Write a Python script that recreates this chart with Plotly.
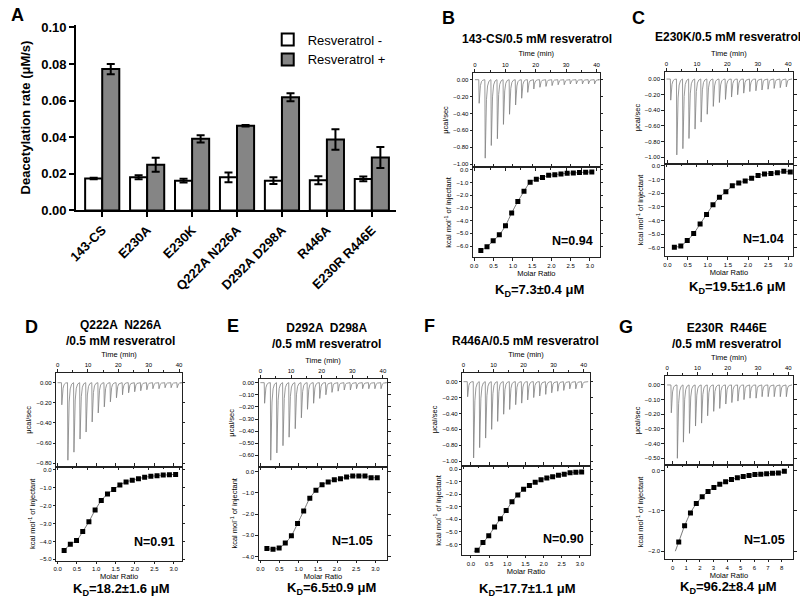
import plotly.graph_objects as go

W, H = 800, 605

# ---------------- Panel A data ----------------
categories = ["143-CS", "E230A", "E230K", "Q222A N226A", "D292A D298A", "R446A", "E230R R446E"]
rate_minus = [0.0175, 0.0181, 0.0163, 0.0181, 0.0163, 0.0165, 0.0172]
rate_minus_err = [0.0004, 0.0011, 0.0010, 0.0027, 0.0018, 0.0022, 0.0013]
rate_plus = [0.0772, 0.0250, 0.0391, 0.0463, 0.0618, 0.0387, 0.0289]
rate_plus_err = [0.0028, 0.0038, 0.0020, 0.0004, 0.0022, 0.0056, 0.0057]
ytick_A = [0.00, 0.02, 0.04, 0.06, 0.08, 0.10]

# ---------------- ITC data ----------------
inj_times = [1.3, 3.3, 5.3, 7.3, 9.3, 11.3, 13.3, 15.3, 17.3, 19.3,
             21.3, 23.3, 25.3, 27.3, 29.3, 31.3, 33.3, 35.3, 37.3, 39.3]

peaks_B = [-0.28, -0.93, -0.78, -0.70, -0.53, -0.41, -0.30, -0.22, -0.15, -0.11,
           -0.09, -0.08, -0.07, -0.06, -0.06, -0.05, -0.05, -0.05, -0.05, -0.05]
peaks_C = [-0.27, -0.97, -0.89, -0.76, -0.64, -0.55, -0.45, -0.35, -0.30, -0.26,
           -0.23, -0.20, -0.18, -0.16, -0.15, -0.14, -0.13, -0.12, -0.11, -0.10]
peaks_D = [-0.22, -0.77, -0.69, -0.56, -0.49, -0.39, -0.30, -0.24, -0.19, -0.15,
           -0.12, -0.10, -0.09, -0.08, -0.07, -0.06, -0.06, -0.05, -0.05, -0.05]
peaks_E = [-0.17, -0.64, -0.58, -0.52, -0.45, -0.38, -0.29, -0.22, -0.17, -0.13,
           -0.10, -0.08, -0.07, -0.06, -0.06, -0.05, -0.05, -0.05, -0.05, -0.05]
peaks_F = [-0.19, -0.96, -0.83, -0.71, -0.60, -0.50, -0.41, -0.35, -0.29, -0.27,
           -0.23, -0.20, -0.18, -0.16, -0.14, -0.12, -0.11, -0.09, -0.09, -0.08]
peaks_G = [-0.19, -0.50, -0.39, -0.33, -0.28, -0.26, -0.21, -0.18, -0.16, -0.13,
           -0.12, -0.11, -0.10, -0.09, -0.09, -0.08, -0.08, -0.08, -0.08, -0.08]

ratio_std = [0.17, 0.33, 0.49, 0.65, 0.81, 0.97, 1.13, 1.29, 1.45, 1.61,
             1.77, 1.93, 2.09, 2.25, 2.41, 2.57, 2.73, 2.89, 3.05]
ratio_G = [0.45, 0.88, 1.31, 1.74, 2.17, 2.60, 3.03, 3.46, 3.89, 4.32,
           4.75, 5.18, 5.61, 6.04, 6.47, 6.90, 7.33, 7.76, 8.20]

heat_B = [-6.36, -6.05, -5.59, -5.12, -4.40, -3.40, -2.50, -1.70, -0.98, -0.75,
          -0.62, -0.44, -0.39, -0.33, -0.28, -0.25, -0.22, -0.20, -0.17]
heat_C = [-5.95, -5.85, -5.45, -4.95, -4.25, -3.55, -2.85, -2.30, -1.90, -1.45,
          -1.25, -1.10, -0.90, -0.70, -0.60, -0.55, -0.50, -0.40, -0.45]
heat_D = [-4.50, -4.15, -3.95, -3.45, -2.90, -2.25, -1.72, -1.35, -1.10, -0.85,
          -0.68, -0.58, -0.50, -0.42, -0.37, -0.33, -0.30, -0.28, -0.26]
heat_E = [-3.63, -3.66, -3.60, -3.37, -3.02, -2.45, -1.85, -1.25, -0.88, -0.62,
          -0.48, -0.38, -0.33, -0.25, -0.20, -0.20, -0.20, -0.28, -0.28]
heat_F = [-6.45, -5.85, -5.30, -4.60, -3.95, -3.30, -2.60, -2.05, -1.60, -1.30,
          -1.05, -0.85, -0.70, -0.60, -0.48, -0.40, -0.28, -0.25, -0.22]
heat_G = [-1.77, -1.37, -1.05, -0.82, -0.65, -0.52, -0.42, -0.34, -0.28, -0.22,
          -0.18, -0.15, -0.12, -0.10, -0.09, -0.08, -0.07, -0.06, -0.02]

# fit-curve start points extending before the first injection
fit_head_F = ([0.08], [-6.55])
fit_head_G = ([0.2], [-2.0])

titles = {
    "B": "143-CS/0.5 mM resveratrol",
    "C": "E230K/0.5 mM resveratrol",
    "D": "Q222A  N226A<br>/0.5 mM resveratrol",
    "E": "D292A  D298A<br>/0.5 mM resveratrol",
    "F": "R446A/0.5 mM resveratrol",
    "G": "E230R  R446E<br>/0.5 mM resveratrol",
}
kd_text = {"B": "7.3±0.4 μM", "C": "19.5±1.6 μM", "D": "18.2±1.6 μM",
           "E": "6.5±0.9 μM", "F": "17.7±1.1 μM", "G": "96.2±8.4 μM"}
n_text = {"B": "N=0.94", "C": "N=1.04", "D": "N=0.91",
          "E": "N=1.05", "F": "N=0.90", "G": "N=1.05"}

FONT = "Liberation Sans, Arial, sans-serif"
NARROW = "Liberation Sans Narrow, Liberation Sans, Arial, sans-serif"


def px_x(a, b):
    return [a / W, b / W]


def px_y(top, bottom):
    return [1 - bottom / H, 1 - top / H]


def note(text, x, y, size, family=FONT):
    return dict(text=text, x=x / W, y=1 - y / H, xref="paper", yref="paper",
                xanchor="center", yanchor="middle", showarrow=False, align="center",
                font=dict(family=family, size=size, color="black"))


fig = go.Figure()

# ---------------- Panel A ----------------
fig.add_trace(go.Bar(
    x=categories, y=rate_minus, name="Resveratrol -",
    marker=dict(color="white", line=dict(color="black", width=2)),
    error_y=dict(type="data", array=rate_minus_err, color="black", thickness=2, width=4),
    xaxis="x", yaxis="y"))
fig.add_trace(go.Bar(
    x=categories, y=rate_plus, name="Resveratrol +",
    marker=dict(color="#858585", line=dict(color="black", width=2)),
    error_y=dict(type="data", array=rate_plus_err, color="black", thickness=2, width=4),
    xaxis="x", yaxis="y"))

layout = dict(
    width=W, height=H, margin=dict(l=0, r=0, t=0, b=0),
    paper_bgcolor="white", plot_bgcolor="white",
    barmode="group", bargap=0.24, bargroupgap=0.0,
    showlegend=True,
    legend=dict(x=262 / W, y=1 - 20 / H, xanchor="left", yanchor="top",
                font=dict(family=FONT, size=13, color="black"),
                bgcolor="rgba(0,0,0,0)", itemwidth=30),
    font=dict(family=FONT, color="black"),
)
layout["xaxis"] = dict(
    domain=px_x(68, 392), range=[-0.58, 6.54], anchor="y",
    showline=True, linecolor="black", linewidth=2,
    ticks="outside", ticklen=5, tickwidth=2, tickcolor="black",
    tickangle=-45, tickfont=dict(family=FONT, size=13, weight="bold"),
    showgrid=False, zeroline=False)
layout["yaxis"] = dict(
    domain=px_y(20, 210), range=[0, 0.1015], anchor="x",
    tickvals=ytick_A, tickformat=".2f",
    showline=True, linecolor="black", linewidth=2,
    ticks="outside", ticklen=5, tickwidth=2, tickcolor="black",
    tickfont=dict(family=FONT, size=13, weight="bold"),
    title=dict(text="Deacetylation rate (μM/s)", standoff=8,
               font=dict(family=FONT, size=13, weight="bold")),
    showgrid=False, zeroline=False)

annotations = [note("<b>A</b>", 9, 10, 18)]

# ---------------- ITC panels ----------------
panels = [
    dict(key="B", box=(470, 598, 69, 166, 258), tr=[-0.6, 41], yt=[-1.04, 0.085], ytd=0.2,
         yb=[-6.9, 0.18], mr=[-0.03, 3.25], mrd=0.5, mrf=".1f",
         peaks=peaks_B, ratio=ratio_std, heat=heat_B, head=None,
         letter=(445, 13), title=(535, 35), kd=(537, 292), n=(571, 241)),
    dict(key="C", box=(664, 794, 68, 162, 257), tr=[-0.6, 41.6], yt=[-1.08, 0.096], ytd=0.2,
         yb=[-6.62, 0.17], mr=[-0.07, 3.12], mrd=0.5, mrf=".1f",
         peaks=peaks_C, ratio=ratio_std, heat=heat_C, head=None,
         letter=(637, 13), title=(728, 33), kd=(737, 289), n=(764, 239)),
    dict(key="D", box=(48, 175, 376, 472, 568), tr=[-0.4, 40.9], yt=[-0.836, 0.097], ytd=0.2,
         yb=[-5.08, 0.16], mr=[-0.03, 3.21], mrd=0.5, mrf=".1f",
         peaks=peaks_D, ratio=ratio_std, heat=heat_D, head=None,
         letter=(23, 329), title=(113, 335), kd=(113, 597), n=(147, 549)),
    dict(key="E", box=(253, 383, 382, 472, 567), tr=[-0.5, 41.4], yt=[-0.695, 0.032], ytd=0.1,
         yb=[-4.16, 0.23], mr=[-0.04, 3.31], mrd=0.5, mrf=".1f",
         peaks=peaks_E, ratio=ratio_std, heat=heat_E, head=None,
         letter=(227, 328), title=(322, 338), kd=(327, 596), n=(348, 548)),
    dict(key="F", box=(459, 588, 376, 471, 562), tr=[-0.4, 42], yt=[-1.06, 0.11], ytd=0.2,
         yb=[-6.83, 0.26], mr=[-0.24, 3.27], mrd=0.5, mrf=".1f",
         peaks=peaks_F, ratio=ratio_std, heat=heat_F, head=fit_head_F,
         letter=(426, 328), title=(523, 343), kd=(525, 597), n=(562, 546)),
    dict(key="G", box=(664, 794, 379, 470, 566), tr=[-0.8, 41.6], yt=[-0.545, 0.062], ytd=0.1,
         yb=[-2.19, 0.14], mr=[-0.58, 8.84], mrd=1, mrf="d",
         peaks=peaks_G, ratio=ratio_G, heat=heat_G, head=fit_head_G,
         letter=(625, 329), title=(727, 338), kd=(728, 595), n=(765, 547)),
]

spike_shape = [(-0.04, 0.0), (0.08, 1.0), (0.25, 0.55), (0.5, 0.25), (0.85, 0.08),
               (1.3, 0.02), (1.9, 0.0)]


def thermogram(times, peaks, t_end):
    xs, ys = [0.0], [0.0]
    for t, p in zip(times, peaks):
        for dt, f in spike_shape:
            xs.append(t + dt)
            ys.append(p * f)
    xs.append(t_end)
    ys.append(0.0)
    return xs, ys


tickfont = dict(family=FONT, size=6, color="black")
axfont = dict(family=FONT, size=7.5, color="black")


def frame_axis(**kw):
    base = dict(showline=True, linecolor="#222", linewidth=1, mirror="ticks",
                ticks="outside", ticklen=2.5, tickwidth=0.8, tickcolor="#222",
                showgrid=False, zeroline=False, tickfont=tickfont)
    base.update(kw)
    return base


for k, p in enumerate(panels):
    l, r, t, m, b = p["box"]
    xt, yt_, xb, yb_ = 2 + 2 * k, 2 + 2 * k, 3 + 2 * k, 3 + 2 * k
    xs, ys = thermogram(inj_times, p["peaks"], p["tr"][1] - 0.5)
    fig.add_trace(go.Scatter(x=xs, y=ys, mode="lines", showlegend=False,
                             line=dict(color="#808080", width=0.8),
                             xaxis=f"x{xt}", yaxis=f"y{yt_}"))
    fx, fy = list(p["ratio"]), list(p["heat"])
    if p["head"] is not None:
        fx = p["head"][0] + fx
        fy = p["head"][1] + fy
    fig.add_trace(go.Scatter(x=fx, y=fy, mode="lines", showlegend=False,
                             line=dict(color="#555", width=0.8, shape="spline", smoothing=0.8),
                             xaxis=f"x{xb}", yaxis=f"y{yb_}"))
    fig.add_trace(go.Scatter(x=p["ratio"], y=p["heat"], mode="markers", showlegend=False,
                             marker=dict(symbol="square", size=5, color="black"),
                             xaxis=f"x{xb}", yaxis=f"y{yb_}"))

    layout[f"xaxis{xt}"] = frame_axis(
        domain=px_x(l, r), range=p["tr"], anchor=f"y{yt_}", side="top",
        tickvals=[0, 10, 20, 30, 40],
        minor=dict(tickvals=[5, 15, 25, 35], ticks="outside", ticklen=1.5, tickcolor="#222"),
        title=dict(text="Time (min)", font=axfont, standoff=3))
    layout[f"yaxis{yt_}"] = frame_axis(
        domain=px_y(t, m), range=p["yt"], anchor=f"x{xt}",
        tick0=0, dtick=p["ytd"], tickformat=".2f",
        title=dict(text="μcal/sec", font=axfont, standoff=3))
    layout[f"xaxis{xb}"] = frame_axis(
        domain=px_x(l, r), range=p["mr"], anchor=f"y{yb_}", side="bottom",
        tick0=0, dtick=p["mrd"], tickformat=p["mrf"],
        title=dict(text="Molar Ratio", font=axfont, standoff=1))
    layout[f"yaxis{yb_}"] = frame_axis(
        domain=px_y(m, b), range=p["yb"], anchor=f"x{xb}",
        tick0=0, dtick=1.0, tickformat=".1f",
        title=dict(text="kcal mol<sup>-1</sup> of injectant", font=axfont, standoff=3))

    key = p["key"]
    annotations.append(note(f"<b>{key}</b>", p["letter"][0], p["letter"][1], 18))
    annotations.append(note(f"<b>{titles[key]}</b>", p["title"][0], p["title"][1], 12, NARROW))
    annotations.append(note(f"<b>K<sub>D</sub>={kd_text[key]}</b>", p["kd"][0], p["kd"][1], 13, NARROW))
    annotations.append(note(f"<b>{n_text[key]}</b>", p["n"][0], p["n"][1], 12.5, NARROW))

layout["annotations"] = annotations
fig.update_layout(**layout)
fig.write_html(
    "out.html",
    config={"displayModeBar": False},
    post_script=("document.documentElement.style.margin='0';"
                 "document.documentElement.style.overflow='hidden';"
                 "document.body.style.margin='0';document.body.style.padding='0';"
                 "document.body.style.overflow='hidden';"))
